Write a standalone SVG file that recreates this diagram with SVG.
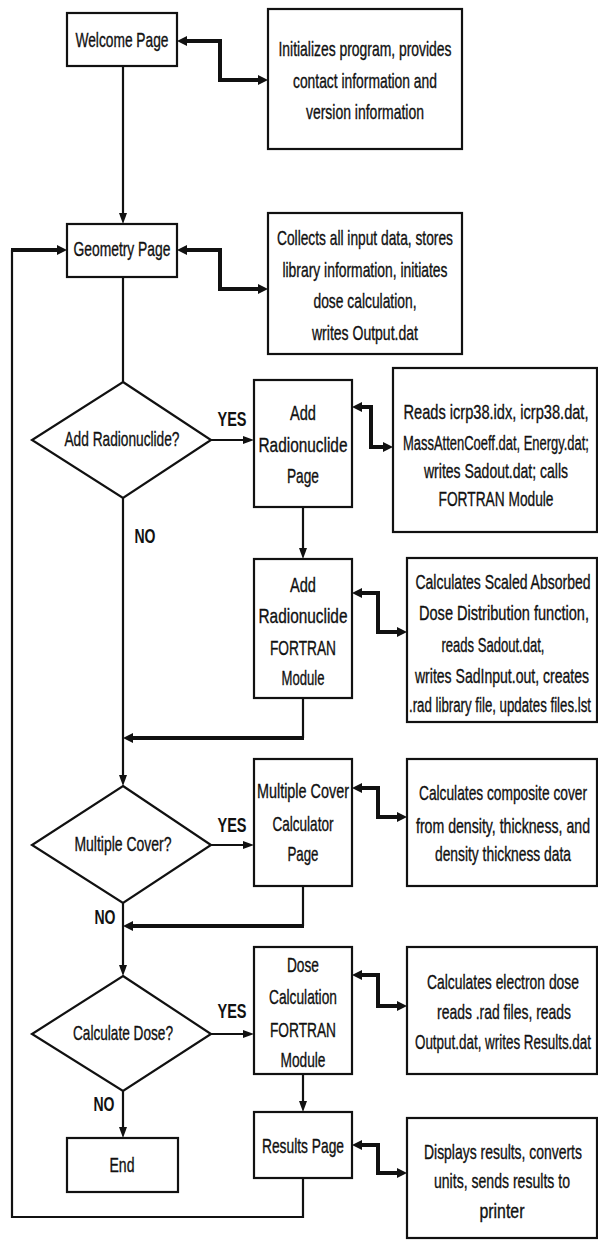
<svg xmlns="http://www.w3.org/2000/svg" width="598" height="1243" viewBox="0 0 598 1243">
  <defs>
    <style>
      .box { fill: #fff; stroke: #111; stroke-width: 2.2; }
      .t { font-family: "Liberation Sans", Arial, sans-serif; font-size: 20px; fill: #111; stroke: #111; stroke-width: 0.35; text-anchor: middle; }
      .lbl { font-family: "Liberation Sans", Arial, sans-serif; font-size: 20px; font-weight: bold; fill: #111; text-anchor: middle; }
      .flow { fill: none; stroke: #111; stroke-width: 2.2; }
      .thick { fill: none; stroke: #111; stroke-width: 4; }
    </style>
    <!-- heavy arrowhead for two-way data links and merge lines -->
    <marker id="head" markerUnits="userSpaceOnUse" markerWidth="10" markerHeight="10" refX="3" refY="5" orient="auto-start-reverse" viewBox="0 0 10 10">
      <path d="M0,0 L10,5 L0,10 z" fill="#111"/>
    </marker>
    <!-- narrow arrowhead for the main flow -->
    <marker id="thin" markerUnits="userSpaceOnUse" markerWidth="11" markerHeight="8" refX="4" refY="4" orient="auto" viewBox="0 0 11 8">
      <path d="M0,0 L11,4 L0,8 z" fill="#111"/>
    </marker>
  </defs>

  <rect width="598" height="1243" fill="#fff"/>

  <g id="connectors">
    <!-- main flow -->
    <path class="flow" d="M123,66 V217" marker-end="url(#thin)"/>
    <path class="flow" d="M123,277 V382"/>
    <path class="flow" d="M123,498 V779" marker-end="url(#thin)"/>
    <path class="flow" d="M123,903 V969" marker-end="url(#thin)"/>
    <path class="flow" d="M123,1091 V1131" marker-end="url(#thin)"/>
    <!-- YES branches -->
    <path class="flow" d="M211,440 H247" stroke-width="2.8" marker-end="url(#thin)"/>
    <path class="flow" d="M211,845 H247" stroke-width="2.8" marker-end="url(#thin)"/>
    <path class="flow" d="M211,1034 H247" stroke-width="2.8" marker-end="url(#thin)"/>
    <!-- page to page -->
    <path class="flow" d="M303,507 V552" marker-end="url(#thin)"/>
    <path class="flow" d="M303,1074 V1105" marker-end="url(#thin)"/>
    <!-- merges back into the main flow -->
    <path class="flow" d="M303,698 V738"/>
    <path class="thick" d="M304,738 H130" stroke-width="3.6" marker-end="url(#head)"/>
    <path class="flow" d="M303,886 V926"/>
    <path class="thick" d="M304,926 H130" stroke-width="3.6" marker-end="url(#head)"/>
    <!-- return loop to Geometry Page -->
    <path class="flow" d="M303,1178 V1217 H12 V250"/>
    <path class="thick" d="M11,250 H60" marker-end="url(#head)"/>
    <!-- two-way data links -->
    <path class="thick" d="M184,41 H220 V80 H261" marker-start="url(#head)" marker-end="url(#head)"/>
    <path class="thick" d="M184,250 H220 V289 H261" marker-start="url(#head)" marker-end="url(#head)"/>
    <path class="thick" d="M359,407 H371 V447 H386" marker-start="url(#head)" marker-end="url(#head)"/>
    <path class="thick" d="M359,593 H378 V632 H400" marker-start="url(#head)" marker-end="url(#head)"/>
    <path class="thick" d="M359,788 H378 V817 H400" marker-start="url(#head)" marker-end="url(#head)"/>
    <path class="thick" d="M359,975 H378 V1006 H400" marker-start="url(#head)" marker-end="url(#head)"/>
    <path class="thick" d="M359,1145 H378 V1173 H400" marker-start="url(#head)" marker-end="url(#head)"/>
  </g>

  <!-- labels are set in a horizontally condensed frame (x scaled by 0.72) -->
  <g id="welcome">
    <rect class="box" x="67" y="13" width="110" height="53"/>
    <g transform="scale(0.72,1)">
      <text class="t" x="169.4" y="47" textLength="129.2" lengthAdjust="spacingAndGlyphs">Welcome Page</text>
    </g>
  </g>
  <g id="welcome-info">
    <rect class="box" x="268" y="9" width="194" height="140"/>
    <g transform="scale(0.72,1)">
      <text class="t" x="506.9" y="56" textLength="240.3" lengthAdjust="spacingAndGlyphs">Initializes program, provides</text>
      <text class="t" x="506.9" y="88" textLength="200" lengthAdjust="spacingAndGlyphs">contact information and</text>
      <text class="t" x="506.9" y="119" textLength="163.9" lengthAdjust="spacingAndGlyphs">version information</text>
    </g>
  </g>

  <g id="geometry">
    <rect class="box" x="67" y="224" width="110" height="53"/>
    <g transform="scale(0.72,1)">
      <text class="t" x="169.4" y="256" textLength="134.7" lengthAdjust="spacingAndGlyphs">Geometry Page</text>
    </g>
  </g>
  <g id="geometry-info">
    <rect class="box" x="268" y="213" width="194" height="141"/>
    <g transform="scale(0.72,1)">
      <text class="t" x="506.9" y="245" textLength="244.4" lengthAdjust="spacingAndGlyphs">Collects all input data, stores</text>
      <text class="t" x="506.9" y="277" textLength="229.2" lengthAdjust="spacingAndGlyphs">library information, initiates</text>
      <text class="t" x="506.9" y="308" textLength="143.1" lengthAdjust="spacingAndGlyphs">dose calculation,</text>
      <text class="t" x="506.9" y="340" textLength="147.2" lengthAdjust="spacingAndGlyphs">writes Output.dat</text>
    </g>
  </g>

  <g id="add-radionuclide-decision">
    <polygon class="box" points="123,382 211,440 123,498 32,440"/>
    <g transform="scale(0.72,1)">
      <text class="t" x="169.4" y="446" textLength="159.7" lengthAdjust="spacingAndGlyphs">Add Radionuclide?</text>
      <text class="lbl" x="322.2" y="426" textLength="40.3" lengthAdjust="spacingAndGlyphs">YES</text>
      <text class="lbl" x="201.4" y="543" textLength="29.2" lengthAdjust="spacingAndGlyphs">NO</text>
    </g>
  </g>

  <g id="add-radionuclide-page">
    <rect class="box" x="254" y="380" width="98" height="127"/>
    <g transform="scale(0.72,1)">
      <text class="t" x="420.8" y="420" textLength="36.1" lengthAdjust="spacingAndGlyphs">Add</text>
      <text class="t" x="420.8" y="452" textLength="123.6" lengthAdjust="spacingAndGlyphs">Radionuclide</text>
      <text class="t" x="420.8" y="483" textLength="44.4" lengthAdjust="spacingAndGlyphs">Page</text>
    </g>
  </g>
  <g id="add-radionuclide-info">
    <rect class="box" x="393" y="368" width="204" height="164"/>
    <g transform="scale(0.72,1)">
      <text class="t" x="688.9" y="419" textLength="256.9" lengthAdjust="spacingAndGlyphs">Reads icrp38.idx, icrp38.dat,</text>
      <text class="t" x="688.9" y="478" textLength="200" lengthAdjust="spacingAndGlyphs">writes Sadout.dat; calls</text>
      <text class="t" x="688.9" y="506" textLength="159.7" lengthAdjust="spacingAndGlyphs">FORTRAN Module</text>
    </g>
    <g transform="scale(0.66,1)">
      <text class="t" x="751.5" y="450" textLength="281.8" lengthAdjust="spacingAndGlyphs">MassAttenCoeff.dat, Energy.dat;</text>
    </g>
  </g>

  <g id="add-radionuclide-fortran">
    <rect class="box" x="254" y="559" width="98" height="139"/>
    <g transform="scale(0.72,1)">
      <text class="t" x="420.8" y="592" textLength="36.1" lengthAdjust="spacingAndGlyphs">Add</text>
      <text class="t" x="420.8" y="623" textLength="123.6" lengthAdjust="spacingAndGlyphs">Radionuclide</text>
      <text class="t" x="420.8" y="655" textLength="91.7" lengthAdjust="spacingAndGlyphs">FORTRAN</text>
      <text class="t" x="420.8" y="685" textLength="59.7" lengthAdjust="spacingAndGlyphs">Module</text>
    </g>
  </g>
  <g id="add-radionuclide-fortran-info">
    <rect class="box" x="407" y="558" width="190" height="164"/>
    <g transform="scale(0.72,1)">
      <text class="t" x="698.6" y="589" textLength="243.1" lengthAdjust="spacingAndGlyphs">Calculates Scaled Absorbed</text>
      <text class="t" x="700" y="620" textLength="236.1" lengthAdjust="spacingAndGlyphs">Dose Distribution function,</text>
      <text class="t" x="684.7" y="652" textLength="143.1" lengthAdjust="spacingAndGlyphs">reads Sadout.dat,</text>
      <text class="t" x="697.2" y="683" textLength="241.7" lengthAdjust="spacingAndGlyphs">writes SadInput.out, creates</text>
    </g>
    <g transform="scale(0.66,1)">
      <text class="t" x="757.6" y="712" textLength="275.8" lengthAdjust="spacingAndGlyphs">.rad library file, updates files.lst</text>
    </g>
  </g>

  <g id="multiple-cover-decision">
    <polygon class="box" points="123,786 211,845 123,903 32,845"/>
    <g transform="scale(0.72,1)">
      <text class="t" x="170.8" y="851" textLength="134.7" lengthAdjust="spacingAndGlyphs">Multiple Cover?</text>
      <text class="lbl" x="322.2" y="832" textLength="40.3" lengthAdjust="spacingAndGlyphs">YES</text>
      <text class="lbl" x="145.8" y="924" textLength="29.2" lengthAdjust="spacingAndGlyphs">NO</text>
    </g>
  </g>

  <g id="multiple-cover-page">
    <rect class="box" x="254" y="759" width="98" height="127"/>
    <g transform="scale(0.72,1)">
      <text class="t" x="420.8" y="798" textLength="127.8" lengthAdjust="spacingAndGlyphs">Multiple Cover</text>
      <text class="t" x="420.8" y="831" textLength="84.7" lengthAdjust="spacingAndGlyphs">Calculator</text>
      <text class="t" x="420.8" y="861" textLength="43.1" lengthAdjust="spacingAndGlyphs">Page</text>
    </g>
  </g>
  <g id="multiple-cover-info">
    <rect class="box" x="407" y="759" width="190" height="127"/>
    <g transform="scale(0.72,1)">
      <text class="t" x="698.6" y="800" textLength="233.3" lengthAdjust="spacingAndGlyphs">Calculates composite cover</text>
      <text class="t" x="698.6" y="833" textLength="241.7" lengthAdjust="spacingAndGlyphs">from density, thickness, and</text>
      <text class="t" x="698.6" y="861" textLength="188.9" lengthAdjust="spacingAndGlyphs">density thickness data</text>
    </g>
  </g>

  <g id="calculate-dose-decision">
    <polygon class="box" points="123,976 211,1034 123,1091 32,1034"/>
    <g transform="scale(0.72,1)">
      <text class="t" x="170.8" y="1040" textLength="138.9" lengthAdjust="spacingAndGlyphs">Calculate Dose?</text>
      <text class="lbl" x="322.2" y="1018" textLength="40.3" lengthAdjust="spacingAndGlyphs">YES</text>
      <text class="lbl" x="144.4" y="1111" textLength="29.2" lengthAdjust="spacingAndGlyphs">NO</text>
    </g>
  </g>

  <g id="end">
    <rect class="box" x="67" y="1138" width="111" height="54"/>
    <g transform="scale(0.72,1)">
      <text class="t" x="169.4" y="1172" textLength="34.7" lengthAdjust="spacingAndGlyphs">End</text>
    </g>
  </g>

  <g id="dose-fortran">
    <rect class="box" x="254" y="947" width="98" height="127"/>
    <g transform="scale(0.72,1)">
      <text class="t" x="420.8" y="972" textLength="44.4" lengthAdjust="spacingAndGlyphs">Dose</text>
      <text class="t" x="420.8" y="1004" textLength="94.4" lengthAdjust="spacingAndGlyphs">Calculation</text>
      <text class="t" x="420.8" y="1037" textLength="91.7" lengthAdjust="spacingAndGlyphs">FORTRAN</text>
      <text class="t" x="420.8" y="1067" textLength="62.5" lengthAdjust="spacingAndGlyphs">Module</text>
    </g>
  </g>
  <g id="dose-fortran-info">
    <rect class="box" x="407" y="947" width="190" height="127"/>
    <g transform="scale(0.72,1)">
      <text class="t" x="698.6" y="989" textLength="211.1" lengthAdjust="spacingAndGlyphs">Calculates electron dose</text>
      <text class="t" x="700" y="1019" textLength="186.1" lengthAdjust="spacingAndGlyphs">reads .rad files, reads</text>
    </g>
    <g transform="scale(0.66,1)">
      <text class="t" x="762.1" y="1049" textLength="266.7" lengthAdjust="spacingAndGlyphs">Output.dat, writes Results.dat</text>
    </g>
  </g>

  <g id="results">
    <rect class="box" x="254" y="1112" width="98" height="66"/>
    <g transform="scale(0.72,1)">
      <text class="t" x="420.8" y="1153" textLength="113.9" lengthAdjust="spacingAndGlyphs">Results Page</text>
    </g>
  </g>
  <g id="results-info">
    <rect class="box" x="407" y="1118" width="190" height="120"/>
    <g transform="scale(0.72,1)">
      <text class="t" x="698.6" y="1159" textLength="219.4" lengthAdjust="spacingAndGlyphs">Displays results, converts</text>
      <text class="t" x="697.2" y="1188" textLength="188.9" lengthAdjust="spacingAndGlyphs">units, sends results to</text>
      <text class="t" x="697.2" y="1218" textLength="62.5" lengthAdjust="spacingAndGlyphs">printer</text>
    </g>
  </g>
</svg>
